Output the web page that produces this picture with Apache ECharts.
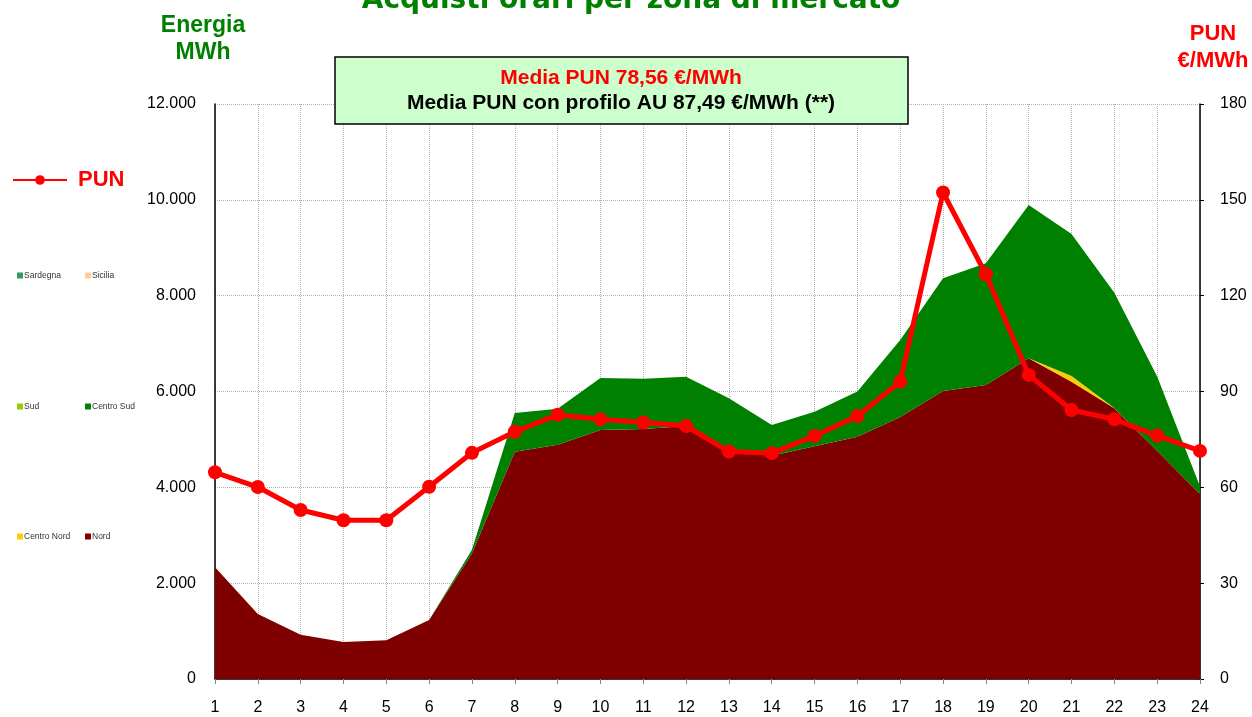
<!DOCTYPE html>
<html>
<head>
<meta charset="utf-8">
<script src="https://cdn.jsdelivr.net/npm/echarts@6/dist/echarts.min.js"></script>
<style>html,body{margin:0;padding:0;background:#fff;}#c{width:1252px;height:717px;}</style>
</head>
<body>
<div id="c"></div>
<script>
const hours = ['1','2','3','4','5','6','7','8','9','10','11','12','13','14','15','16','17','18','19','20','21','22','23','24'];
const nord = [2330,1356,925,772,807,1231,2620,4743,4890,5196,5220,5280,4770,4660,4860,5055,5470,6010,6135,6692,6205,5650,4765,3860];
const centroNord = [0,0,0,0,0,0,0,0,0,0,0,0,0,0,0,0,0,0,0,0,118,5,0,0];
const centroSud = [0,0,0,0,0,0,80,807,750,1085,1047,1029,1088,640,718,945,1604,2352,2540,3199,2963,2407,1550,155];
const sud = [0,0,0,0,0,0,0,0,0,0,0,0,0,0,0,0,0,0,0,0,0,0,0,0];
const sicilia = [0,0,0,0,0,0,0,0,0,0,0,0,0,0,0,0,0,0,0,0,0,0,0,0];
const sardegna = [0,0,0,0,0,0,0,0,0,0,0,0,0,0,0,0,0,0,0,0,0,0,0,0];
const pun = [64.7,60.1,52.9,49.7,49.7,60.2,70.8,77.4,82.7,81.3,80.3,79.2,71.2,70.7,76.1,82.3,93.1,152.3,126.7,95.2,84.2,81.3,76.2,71.4];
const leftTicks = [0,2000,4000,6000,8000,10000,12000];
const rightTicks = [0,30,60,90,120,150,180];

const chart = echarts.init(document.getElementById('c'));
const fmtIt = v => v >= 1000 ? Math.floor(v/1000) + '.' + String(v % 1000).padStart(3,'0') : String(v);
const F = 'Liberation Sans, Arial, sans-serif';

function area(name, data, color) {
  return {
    name, type: 'line', stack: 'tot', data, yAxisIndex: 0,
    symbol: 'none', showSymbol: false, smooth: false,
    lineStyle: { width: 0, color }, itemStyle: { color },
    areaStyle: { color, opacity: 1 }, z: 2, animation: false
  };
}
function zoneLegend(name, left, top) {
  return {
    data: [name], left, top, orient: 'horizontal', padding: 0,
    icon: 'rect', itemWidth: 6, itemHeight: 6,
    textStyle: { fontFamily: F, fontSize: 8.5, color: '#333', padding: [0,0,0,-4] },
    selectedMode: false
  };
}

const option = {
  animation: false,
  backgroundColor: '#fff',
  grid: { left: 215, right: 52, top: 104, bottom: 38, containLabel: false },
  legend: [
    {
      data: ['PUN'], left: 12, top: 169, padding: 0, itemWidth: 54, itemHeight: 12,
      itemGap: 0, selectedMode: false,
      textStyle: { fontFamily: F, fontSize: 22, fontWeight: 'bold', color: '#FF0000', padding: [0,0,0,6] }
    },
    zoneLegend('Sardegna', 17, 271),
    zoneLegend('Sicilia', 85, 271),
    zoneLegend('Sud', 17, 402),
    zoneLegend('Centro Sud', 85, 402),
    zoneLegend('Centro Nord', 17, 532),
    zoneLegend('Nord', 85, 532)
  ],
  xAxis: {
    type: 'category', data: hours, boundaryGap: false,
    axisLine: { show: true, lineStyle: { color: '#000', width: 1.5 } },
    axisTick: { show: true, alignWithLabel: true, interval: 0, length: 5, lineStyle: { color: '#888' } },
    axisLabel: { interval: 0, margin: 21, fontFamily: F, fontSize: 16, color: '#000' },
    splitLine: { show: true, interval: 0, lineStyle: { color: '#b0b0b0', type: [1,1], width: 1 } }
  },
  yAxis: [
    {
      type: 'value', min: 0, max: 12000, interval: 2000, position: 'left',
      axisLine: { show: true, lineStyle: { color: '#000', width: 1.5 } },
      axisTick: { show: false },
      axisLabel: { margin: 19, fontFamily: F, fontSize: 16, color: '#000', formatter: fmtIt },
      splitLine: { show: true, lineStyle: { color: '#b0b0b0', type: [1,1], width: 1 } }
    },
    {
      type: 'value', min: 0, max: 180, interval: 30, position: 'right',
      axisLine: { show: true, lineStyle: { color: '#000', width: 1.5 } },
      axisTick: { show: true, inside: false, length: 4, lineStyle: { color: '#000' } },
      axisLabel: { margin: 20, fontFamily: F, fontSize: 16, color: '#000' },
      splitLine: { show: false }
    }
  ],
  series: [
    area('Nord', nord, '#7F0000'),
    area('Centro Nord', centroNord, '#FFCC00'),
    area('Centro Sud', centroSud, '#008000'),
    area('Sud', sud, '#99CC00'),
    area('Sicilia', sicilia, '#FFCC99'),
    area('Sardegna', sardegna, '#339966'),
    {
      name: 'PUN', type: 'line', data: pun, yAxisIndex: 1,
      symbol: 'circle', symbolSize: 14, showSymbol: true,
      lineStyle: { color: '#FF0000', width: 5 }, itemStyle: { color: '#FF0000' },
      z: 5, animation: false
    }
  ],
  graphic: [
    { type: 'text', x: 631, y: 15, z: 10,
      style: { text: 'Acquisti orari per zona di mercato', fontFamily: 'DejaVu Sans', fontWeight: 'bold', fontSize: 28, fill: '#008000', align: 'center', verticalAlign: 'bottom' } },
    { type: 'text', x: 203, y: 12, z: 10,
      style: { text: 'Energia\nMWh', fontFamily: F, fontWeight: 'bold', fontSize: 23, lineHeight: 27, fill: '#008000', align: 'center', verticalAlign: 'top' } },
    { type: 'text', x: 1213, y: 20, z: 10,
      style: { text: 'PUN\n€/MWh', fontFamily: F, fontWeight: 'bold', fontSize: 22, lineHeight: 27, fill: '#FF0000', align: 'center', verticalAlign: 'top' } },
    { type: 'rect', z: 10, shape: { x: 335, y: 57, width: 573, height: 67 },
      style: { fill: '#CCFFCC', stroke: '#000', lineWidth: 1.5 } },
    { type: 'text', x: 621, y: 78, z: 11,
      style: { text: 'Media PUN 78,56 €/MWh', fontFamily: F, fontWeight: 'bold', fontSize: 21, fill: '#FF0000', align: 'center', verticalAlign: 'middle' } },
    { type: 'text', x: 621, y: 103, z: 11,
      style: { text: 'Media PUN con profilo AU 87,49 €/MWh (**)', fontFamily: F, fontWeight: 'bold', fontSize: 21, fill: '#000', align: 'center', verticalAlign: 'middle' } }
  ]
};
chart.setOption(option);
</script>
</body>
</html>
